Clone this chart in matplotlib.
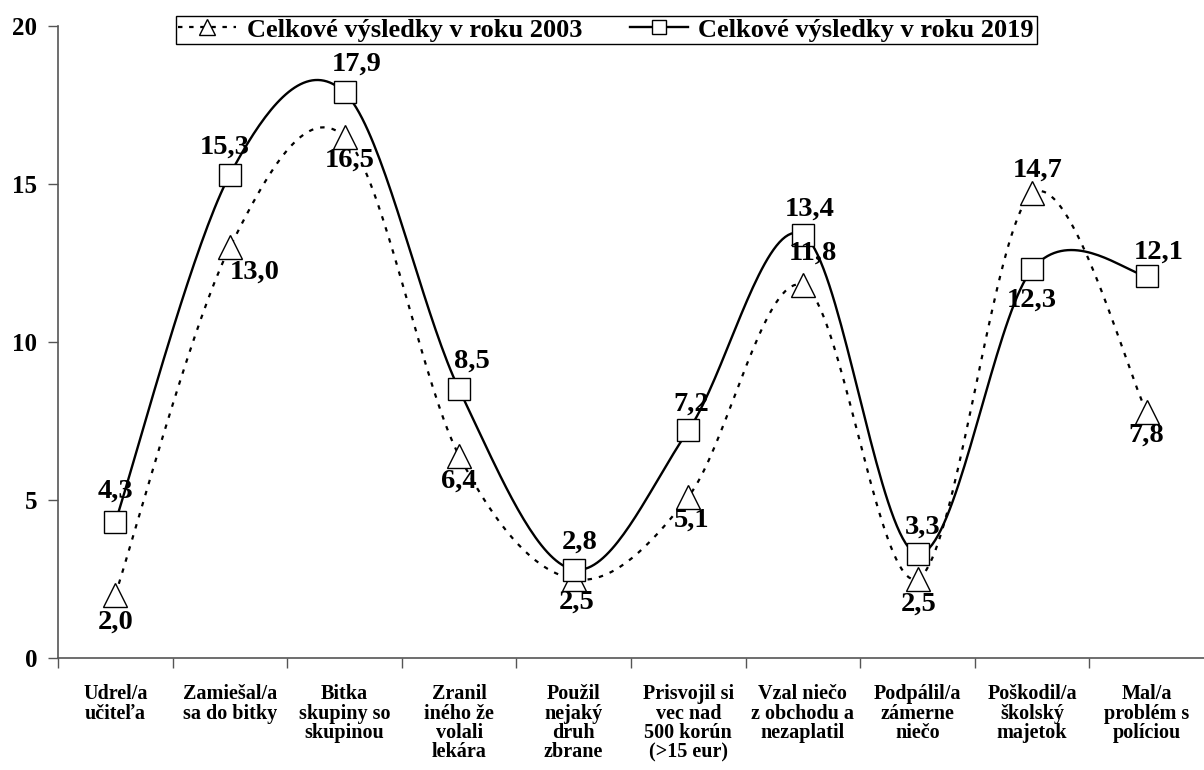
import numpy as np
import matplotlib
matplotlib.use("Agg")
import matplotlib.pyplot as plt

categories = ["Udrel/a\nučiteľa", "Zamiešal/a\nsa do bitky", "Bitka\nskupiny so\nskupinou",
              "Zranil\niného že\nvolali\nlekára", "Použil\nnejaký\ndruh\nzbrane",
              "Prisvojil si\nvec nad\n500 korún\n(>15 eur)", "Vzal niečo\nz obchodu a\nnezaplatil",
              "Podpálil/a\nzámerne\nniečo", "Poškodil/a\nškolský\nmajetok", "Mal/a\nproblém s\npolíciou"]
values_2003 = [2.0, 13.0, 16.5, 6.4, 2.5, 5.1, 11.8, 2.5, 14.7, 7.8]
values_2019 = [4.3, 15.3, 17.9, 8.5, 2.8, 7.2, 13.4, 3.3, 12.3, 12.1]
label_2003 = "Celkové výsledky v roku 2003"
label_2019 = "Celkové výsledky v roku 2019"

# label offsets in points (layout only)
off_2003 = [(0, -20), (18, -18), (4, -17), (0, -18), (2, -17), (2, -17), (7, 23), (1, -18), (4, 17), (0, -17)]
off_2019 = [(0, 22), (-4, 20), (9, 20), (9, 20), (4, 20), (2, 19), (5, 18), (4, 19), (0, -22), (9, 17)]

plt.rcParams['font.family'] = ['Liberation Serif', 'DejaVu Serif']
plt.rcParams['font.weight'] = 'bold'


def smooth(x, y, n=40):
    x = np.asarray(x, float)
    y = np.asarray(y, float)
    P = np.column_stack([x, y])
    Pe = np.vstack([P[0], P, P[-1]])
    out = []
    t = np.linspace(0, 1, n)[:, None]
    for i in range(len(P) - 1):
        p0, p3 = Pe[i + 1], Pe[i + 2]
        c1 = p0 + (Pe[i + 2] - Pe[i]) / 6.0
        c2 = p3 - (Pe[i + 3] - Pe[i + 1]) / 6.0
        seg = ((1 - t) ** 3) * p0 + 3 * ((1 - t) ** 2) * t * c1 + 3 * (1 - t) * t ** 2 * c2 + t ** 3 * p3
        out.append(seg if i == 0 else seg[1:])
    s = np.vstack(out)
    return s[:, 0], s[:, 1]


fig = plt.figure(figsize=(12.04, 7.70), dpi=100)
ax = fig.add_axes([58 / 1204, 1 - 658 / 770, 1 - 58 / 1204, (658 - 26) / 770])

x = np.arange(len(categories))
sx, sy = smooth(x, values_2003)
ax.plot(sx, sy, color='black', lw=1.6, linestyle=(0, (2.0, 3.2)), zorder=2)
sx, sy = smooth(x, values_2019)
ax.plot(sx, sy, color='black', lw=1.7, zorder=2)

ax.plot(x, values_2003, linestyle='none', marker='^', markersize=17, markerfacecolor='white',
        markeredgecolor='black', markeredgewidth=1.0, zorder=3)
ax.plot(x, values_2019, linestyle='none', marker='s', markersize=16, markerfacecolor='white',
        markeredgecolor='black', markeredgewidth=1.0, zorder=4)

for xi, v, o in zip(x, values_2003, off_2003):
    ax.annotate(f"{v:.1f}".replace('.', ','), (xi, v), xytext=o, textcoords='offset points',
                ha='center', va='center', fontsize=20.5, fontweight='bold', zorder=5)
for xi, v, o in zip(x, values_2019, off_2019):
    ax.annotate(f"{v:.1f}".replace('.', ','), (xi, v), xytext=o, textcoords='offset points',
                ha='center', va='center', fontsize=20.5, fontweight='bold', zorder=5)

ax.set_xlim(-0.5, len(categories) - 0.5)
ax.set_ylim(0, 20)
ax.set_yticks([0, 5, 10, 15, 20])
ax.tick_params(axis='y', direction='out', length=7, width=1, color='#555555', labelsize=18, pad=8)
for lab in ax.get_yticklabels():
    lab.set_fontweight('bold')

ax.set_xticks(np.arange(-0.5, len(categories) - 0.5, 1.0))
ax.set_xticklabels([])
ax.tick_params(axis='x', which='major', direction='out', length=7, width=1, color='#555555')
ax.set_xticks(x, minor=True)
ax.set_xticklabels(categories, minor=True, fontsize=14.5, fontweight='bold', linespacing=0.95)
ax.tick_params(axis='x', which='minor', length=0, pad=19)

for s in ['top', 'right']:
    ax.spines[s].set_visible(False)
for s in ['left', 'bottom']:
    ax.spines[s].set_color('#555555')
    ax.spines[s].set_linewidth(1.2)

h1, = ax.plot([], [], color='black', lw=1.6, linestyle=(0, (2.0, 3.0)), marker='^', markersize=11,
              markerfacecolor='white', markeredgecolor='black', markeredgewidth=1.0)
h2, = ax.plot([], [], color='black', lw=1.7, marker='s', markersize=10,
              markerfacecolor='white', markeredgecolor='black', markeredgewidth=1.0)
leg = fig.legend([h1, h2], [label_2003, label_2019], loc='center', bbox_to_anchor=(606 / 1204, 1 - 30 / 770),
                 ncol=2, frameon=True, fancybox=False, edgecolor='black', framealpha=1,
                 prop={'family': 'Liberation Serif', 'weight': 'bold', 'size': 19},
                 handlelength=2.2, columnspacing=1.8, borderpad=0.1, handletextpad=0.4)
leg.get_frame().set_linewidth(1.0)

fig.savefig('out.png', dpi=100)
